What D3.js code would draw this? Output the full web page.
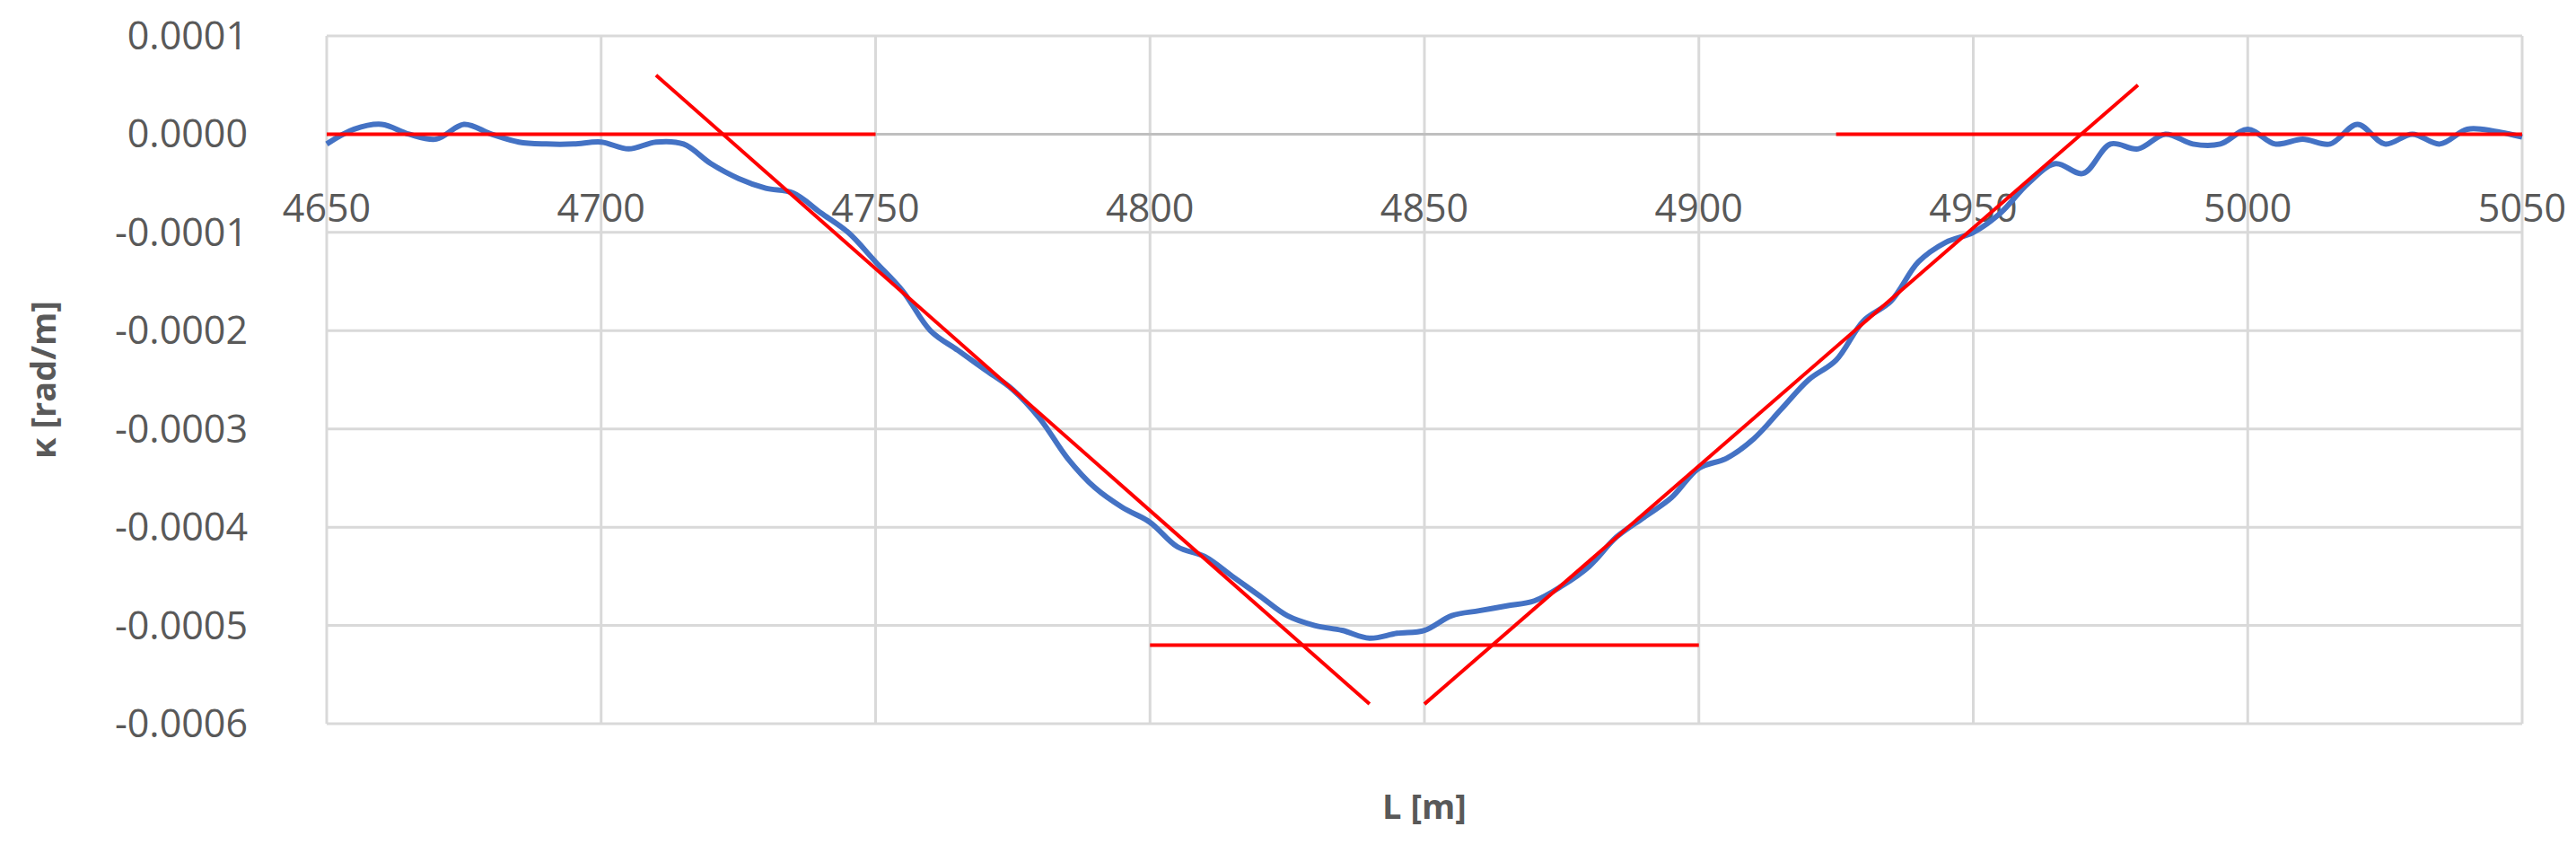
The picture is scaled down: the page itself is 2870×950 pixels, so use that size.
<!DOCTYPE html><html><head><meta charset="utf-8"><script src="https://cdn.jsdelivr.net/npm/d3@7"></script>
<style>body{margin:0;background:#fff}</style></head><body><svg id="c" width="2870" height="950"></svg><script>
const xs=[4650,4655,4660,4665,4670,4675,4680,4685,4690,4695,4700,4705,4710,4715,4720,4725,4730,4735,4740,4745,4750,4755,4760,4765,4770,4775,4780,4785,4790,4795,4800,4805,4810,4815,4820,4825,4830,4835,4840,4845,4850,4855,4860,4865,4870,4875,4880,4885,4890,4895,4900,4905,4910,4915,4920,4925,4930,4935,4940,4945,4950,4955,4960,4965,4970,4975,4980,4985,4990,4995,5000,5005,5010,5015,5020,5025,5030,5035,5040,5045,5050];
const kappa=[-0.00001,0.000005,0.00001,0.0,-0.000005,0.00001,0.0,-0.000008,-0.00001,-0.00001,-0.000008,-0.000015,-0.000008,-0.00001,-0.00003,-0.000045,-0.000055,-0.00006,-0.00008,-0.0001,-0.00013,-0.00016,-0.0002,-0.00022,-0.00024,-0.00026,-0.00029,-0.00033,-0.00036,-0.00038,-0.000395,-0.00042,-0.00043,-0.00045,-0.00047,-0.00049,-0.0005,-0.000505,-0.000513,-0.000508,-0.000505,-0.00049,-0.000485,-0.00048,-0.000475,-0.00046,-0.00044,-0.00041,-0.00039,-0.00037,-0.00034,-0.00033,-0.00031,-0.00028,-0.00025,-0.00023,-0.00019,-0.00017,-0.00013,-0.00011,-0.0001,-0.00008,-0.00005,-0.00003,-0.00004,-0.00001,-0.000015,0.0,-0.00001,-0.00001,0.000005,-0.00001,-0.000005,-0.00001,0.00001,-0.00001,0.0,-0.00001,0.000005,0.000003,-0.000003];
const redSegments=[[[4650,0],[4750,0]],[[4925,0],[5050,0]],[[4800,-0.00052],[4900,-0.00052]],[[4710,0.00006],[4840,-0.00058]],[[4850,-0.00058],[4980,0.00005]]];
const xTicks=[4650,4700,4750,4800,4850,4900,4950,5000,5050];
const yTicks=[0.0001,0,-0.0001,-0.0002,-0.0003,-0.0004,-0.0005,-0.0006];

const svg=d3.select("#c"),L=364,R=2810,T=40,B=806;
const x=d3.scaleLinear().domain([4650,5050]).range([L,R]);
const y=d3.scaleLinear().domain([-0.0006,0.0001]).range([B,T]);
const font="'Open Sans', 'Liberation Sans', sans-serif";
const g=svg.append("g");
xTicks.forEach(v=>g.append("line").attr("x1",x(v)).attr("x2",x(v)).attr("y1",T).attr("y2",B).attr("stroke","#d9d9d9").attr("stroke-width",3));
yTicks.forEach(v=>g.append("line").attr("x1",L).attr("x2",R).attr("y1",y(v)).attr("y2",y(v)).attr("stroke",v===0?"#bfbfbf":"#d9d9d9").attr("stroke-width",3));
yTicks.forEach(v=>svg.append("text").attr("x",L-88).attr("y",y(v)).attr("dy","0.35em").attr("text-anchor","end").attr("font-family",font).attr("font-size",43).attr("fill","#595959").text(v.toFixed(4)));
xTicks.forEach(v=>svg.append("text").attr("x",x(v)).attr("y",y(0)+98).attr("text-anchor","middle").attr("font-family",font).attr("font-size",43).attr("fill","#595959").text(v));
svg.append("text").attr("transform",`translate(62,${(T+B)/2}) rotate(-90)`).attr("text-anchor","middle").attr("font-family",font).attr("font-weight","bold").attr("font-size",38).attr("fill","#595959").text("κ [rad/m]");
svg.append("text").attr("x",(L+R)/2).attr("y",912).attr("text-anchor","middle").attr("font-family",font).attr("font-weight","bold").attr("font-size",38).attr("fill","#595959").text("L [m]");
svg.append("path").datum(xs.map((v,i)=>[v,kappa[i]])).attr("d",d3.line().x(d=>x(d[0])).y(d=>y(d[1])).curve(d3.curveCatmullRom)).attr("fill","none").attr("stroke","#4472C4").attr("stroke-width",6);
redSegments.forEach(s=>svg.append("line").attr("x1",x(s[0][0])).attr("y1",y(s[0][1])).attr("x2",x(s[1][0])).attr("y2",y(s[1][1])).attr("stroke","#ff0000").attr("stroke-width",4));
</script></body></html>
